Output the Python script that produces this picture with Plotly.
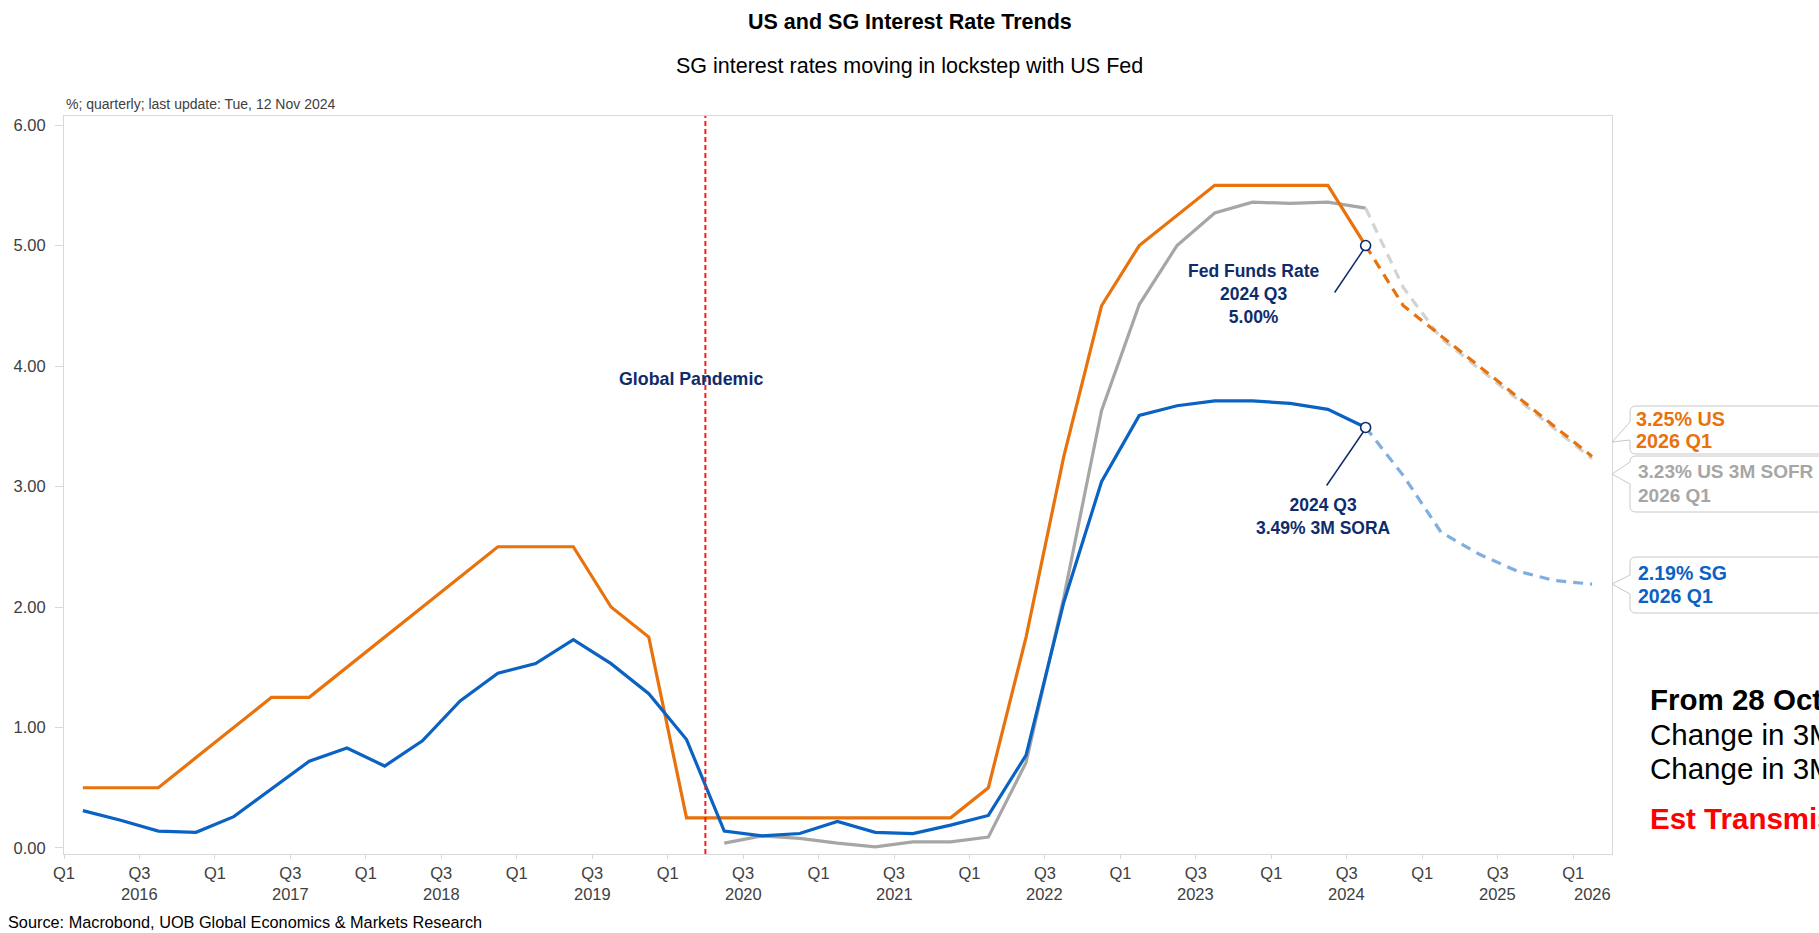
import plotly.graph_objects as go

# ---------------- data ----------------
quarters = [f"{y}Q{q}" for y in range(2016, 2027) for q in range(1, 5)][:41]  # 2016Q1 .. 2026Q1

us_fed_actual = [0.50, 0.50, 0.50, 0.75,
                 1.00, 1.25, 1.25, 1.50,
                 1.75, 2.00, 2.25, 2.50,
                 2.50, 2.50, 2.00, 1.75,
                 0.25, 0.25, 0.25, 0.25,
                 0.25, 0.25, 0.25, 0.25,
                 0.50, 1.75, 3.25, 4.50,
                 5.00, 5.25, 5.50, 5.50,
                 5.50, 5.50, 5.00]
us_fed_forecast = [5.00, 4.50, 4.25, 4.00, 3.75, 3.50, 3.25]

sofr_start = "2020Q2"
sofr_actual = [0.04, 0.10, 0.08,
               0.04, 0.01, 0.05, 0.05,
               0.09, 0.71, 2.08, 3.63,
               4.51, 5.00, 5.27, 5.36,
               5.35, 5.36, 5.31]
sofr_forecast = [5.31, 4.65, 4.23, 3.98, 3.73, 3.48, 3.23]

sora_actual = [0.31, 0.23, 0.14, 0.13,
               0.26, 0.49, 0.72, 0.83,
               0.68, 0.89, 1.22, 1.45,
               1.53, 1.73, 1.53, 1.28,
               0.90, 0.14, 0.10, 0.12,
               0.22, 0.13, 0.12, 0.19,
               0.27, 0.77, 2.04, 3.04,
               3.59, 3.67, 3.71, 3.71,
               3.69, 3.64, 3.49]
sora_forecast = [3.49, 3.09, 2.62, 2.44, 2.30, 2.22, 2.19]

forecast_start = "2024Q3"
pandemic_quarter = "2020Q2"

tick_labels = ["Q1", "Q3"]
year_labels = [str(y) for y in range(2016, 2027)]

# ---------------- helpers ----------------
def qpos(q):
    """centre of a quarter on a numeric axis where 0 = start of 2016Q1"""
    return quarters.index(q) + 0.5

def qstart(q):
    return quarters.index(q)

x_actual = [qpos(q) for q in quarters[:len(us_fed_actual)]]
fc_idx = quarters.index(forecast_start)
x_fc = [qpos(q) for q in quarters[fc_idx:fc_idx + len(us_fed_forecast)]]
s_idx = quarters.index(sofr_start)
x_sofr = [qpos(q) for q in quarters[s_idx:s_idx + len(sofr_actual)]]

ORANGE = "#E8720C"
BLUE = "#0A62C2"
GRAY = "#A6A6A6"
LGRAY = "#D3D3D3"
LBLUE = "#7FAEDF"
NAVY = "#0E2C6C"
FRAME = "#D9D9D9"
TXT = "#404040"
FONT = "Liberation Sans, Arial, sans-serif"

W, H = 1819, 933
L, R, T, B = 64, 1612, 116, 854

def px(xp):
    return (xp - L) / (R - L)

def py(yp):
    return (B - yp) / (B - T)

fig = go.Figure()

# gray SOFR
fig.add_trace(go.Scatter(x=x_sofr, y=sofr_actual, mode="lines",
                         line=dict(color=GRAY, width=3.2)))
fig.add_trace(go.Scatter(x=x_fc, y=sofr_forecast, mode="lines",
                         line=dict(color=LGRAY, width=3.2, dash="10px,7px")))
# orange Fed
fig.add_trace(go.Scatter(x=x_actual, y=us_fed_actual, mode="lines",
                         line=dict(color=ORANGE, width=3.2)))
fig.add_trace(go.Scatter(x=x_fc, y=us_fed_forecast, mode="lines",
                         line=dict(color=ORANGE, width=3.2, dash="10px,7px")))
# blue SORA
fig.add_trace(go.Scatter(x=x_actual, y=sora_actual, mode="lines",
                         line=dict(color=BLUE, width=3.2)))
fig.add_trace(go.Scatter(x=x_fc, y=sora_forecast, mode="lines",
                         line=dict(color=LBLUE, width=3.2, dash="10px,7px")))
# highlighted points
fig.add_trace(go.Scatter(x=[x_actual[-1], x_actual[-1]],
                         y=[us_fed_actual[-1], sora_actual[-1]], mode="markers",
                         marker=dict(symbol="circle", size=10, color="white",
                                     line=dict(color=NAVY, width=1.6))))

shapes = []
# pandemic line
shapes.append(dict(type="line", xref="x", yref="paper",
                   x0=qstart(pandemic_quarter), x1=qstart(pandemic_quarter), y0=0, y1=1,
                   line=dict(color="#FF1A1A", width=2, dash="5px,3px")))
# leader lines (pixel offsets from the highlighted points)
for yv, (dx0, dy0) in [(us_fed_actual[-1], (-31, -47)), (sora_actual[-1], (-39, -58))]:
    shapes.append(dict(type="line", xsizemode="pixel", ysizemode="pixel",
                       xref="x", yref="y", xanchor=x_actual[-1], yanchor=yv,
                       x0=dx0, y0=dy0, x1=-2, y1=-4,
                       line=dict(color=NAVY, width=1.5)))

# callout boxes on the right
def callout(top, bot, tip, at, ab, r=6, x0=1630, x1=1850, xt=1612):
    p = f"M {px(x0 + r)},{py(top)} L {px(x1)},{py(top)} L {px(x1)},{py(bot)} L {px(x0 + r)},{py(bot)} "
    p += f"Q {px(x0)},{py(bot)} {px(x0)},{py(bot - r)} "
    p += f"L {px(x0)},{py(ab)} L {px(xt)},{py(tip)} L {px(x0)},{py(at)} "
    p += f"L {px(x0)},{py(top + r)} Q {px(x0)},{py(top)} {px(x0 + r)},{py(top)} Z"
    return dict(type="path", xref="paper", yref="paper", path=p,
                fillcolor="white", line=dict(color="#C8C8C8", width=1), layer="above")

shapes.append(callout(406, 454, 442, 422, 440))
shapes.append(callout(456, 512, 474, 462, 484))
shapes.append(callout(557, 613, 584, 575, 594))

annotations = []

def ann(text, xp, yp, size, color, bold=False, xanchor="left"):
    annotations.append(dict(text=text, xref="paper", yref="paper",
                            x=px(xp), y=py(yp),
                            xanchor=xanchor, yanchor="middle", showarrow=False,
                            font=dict(family=FONT, size=size, color=color,
                                      weight="bold" if bold else "normal")))

# titles
ann("US and SG Interest Rate Trends", 909.5, 22, 21.5, "#000000", bold=True, xanchor="center")
ann("SG interest rates moving in lockstep with US Fed", 909.5, 66, 21.5, "#000000", xanchor="center")
ann("%; quarterly; last update: Tue, 12 Nov 2024", 64, 104, 14, TXT)
ann("Source: Macrobond, UOB Global Economics & Markets Research", 6, 922, 16.3, "#000000")

# year labels
for yl in year_labels:
    xv = qstart(f"{yl}Q3") if yl != "2026" else qpos("2026Q1")
    annotations.append(dict(text=yl, xref="x", yref="paper", x=xv, y=py(894),
                            xanchor="center", yanchor="middle", showarrow=False,
                            font=dict(family=FONT, size=16.5, color=TXT)))

# in-chart annotations
annotations.append(dict(text="Global Pandemic", xref="x", yref="y", x=16.62, y=3.89,
                        showarrow=False, xanchor="center", yanchor="middle",
                        font=dict(family=FONT, size=17.8, color=NAVY, weight="bold")))
annotations.append(dict(text="Fed Funds Rate<br>2024 Q3<br>5.00%", xref="x", yref="y",
                        x=31.54, y=4.60, showarrow=False, xanchor="center", yanchor="middle",
                        align="center",
                        font=dict(family=FONT, size=17.5, color=NAVY, weight="bold")))
annotations.append(dict(text="2024 Q3<br>3.49% 3M SORA", xref="x", yref="y",
                        x=33.37, y=2.75, showarrow=False, xanchor="center", yanchor="middle",
                        align="center",
                        font=dict(family=FONT, size=17.5, color=NAVY, weight="bold")))

# callout texts
ann("3.25% US", 1634, 419, 19.8, ORANGE, bold=True)
ann("2026 Q1", 1634, 441, 19.8, ORANGE, bold=True)
ann("3.23% US 3M SOFR", 1636, 472, 19, GRAY, bold=True)
ann("2026 Q1", 1636, 495, 19, GRAY, bold=True)
ann("2.19% SG", 1636, 573, 19.5, BLUE, bold=True)
ann("2026 Q1", 1636, 596, 19.5, BLUE, bold=True)

# bottom-right box text
ann("From 28 Oct to 12 Nov 2024:", 1648, 699, 29.5, "#000000", bold=True)
ann("Change in 3M SOFR", 1648, 734, 29.5, "#000000")
ann("Change in 3M SORA", 1648, 768, 29.5, "#000000")
ann("Est Transmission", 1648, 818, 29.5, "#FF0000", bold=True)

fig.update_layout(
    width=W, height=H,
    margin=dict(l=L, r=W - R, t=T, b=H - B, pad=0),
    paper_bgcolor="white", plot_bgcolor="white",
    showlegend=False, hovermode=False,
    font=dict(family=FONT, color=TXT),
    shapes=shapes, annotations=annotations,
    xaxis=dict(range=[0, 41.03], tickmode="array",
               tickvals=list(range(0, 41, 2)),
               ticktext=[tick_labels[(i // 2) % 2] for i in range(0, 41, 2)],
               ticks="outside", ticklen=4, tickcolor=FRAME,
               showline=True, mirror=True, linecolor=FRAME, linewidth=1,
               showgrid=False, zeroline=False,
               tickfont=dict(family=FONT, size=16.5, color=TXT)),
    yaxis=dict(range=[-0.05, 6.075], tickmode="array", tickvals=[0, 1, 2, 3, 4, 5, 6],
               tickformat=".2f", ticks="outside", ticklen=8, tickcolor=FRAME,
               ticklabelstandoff=6,
               showline=True, mirror=True, linecolor=FRAME, linewidth=1,
               showgrid=False, zeroline=False,
               tickfont=dict(family=FONT, size=16.5, color=TXT)),
)

fig.write_html("out.html")
